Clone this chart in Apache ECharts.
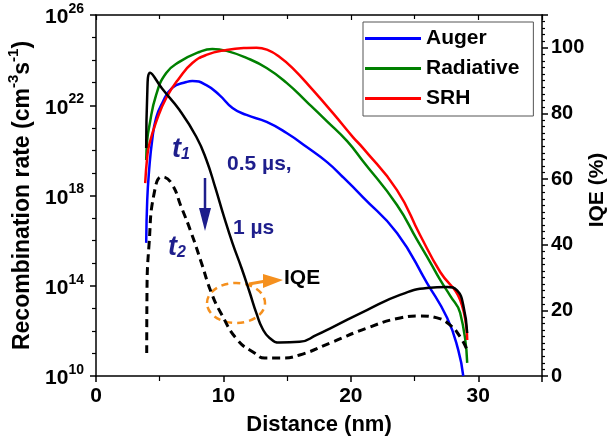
<!DOCTYPE html>
<html><head><meta charset="utf-8">
<script src="https://cdn.jsdelivr.net/npm/echarts@6/dist/echarts.min.js"></script>
<style>html,body{margin:0;padding:0;background:#fff}#c{width:609px;height:442px}</style>
</head><body><div id="c"></div>
<script>
const FONT = '"Liberation Sans", Arial, Helvetica, sans-serif';

// Distance (nm) and log10(recombination rate, cm^-3 s^-1)
const augerX = [3.94, 4.02, 4.17, 4.41, 4.72, 5.2, 5.98, 7.09, 7.56, 8.66, 9.69, 10.71, 11.81, 13.39, 14.96, 16.54, 18.11, 19.37, 20.94, 23.62, 25.98, 27.56, 28.43, 28.82];
const augerLog = [15.9, 17.8, 19.13, 20.46, 21.44, 22.1, 22.77, 23.03, 23.08, 22.89, 22.45, 21.88, 21.57, 21.26, 20.77, 20.15, 19.49, 18.82, 17.93, 16.34, 14.12, 12.57, 11.15, 10.0];

const radX = [3.94, 4.02, 4.17, 4.72, 5.51, 6.54, 8.11, 9.13, 10.24, 11.81, 13.39, 14.96, 16.54, 18.11, 19.69, 20.94, 23.62, 25.2, 26.22, 27.01, 27.8, 28.58, 29.13];
const radLog = [19.57, 20.46, 21.04, 22.46, 23.43, 23.92, 24.36, 24.49, 24.41, 24.1, 23.65, 22.99, 22.15, 21.3, 20.42, 19.53, 17.58, 16.03, 15.05, 14.26, 13.55, 12.79, 10.58];

const srhX = [3.86, 4.02, 4.17, 4.72, 5.51, 6.54, 7.56, 8.66, 10.24, 11.81, 12.6, 13.5, 14.41, 15.43, 17.01, 18.58, 20.16, 20.94, 23.62, 25.43, 27.01, 28.58, 29.13];
const srhLog = [18.55, 19.71, 20.24, 21.26, 22.32, 23.21, 23.87, 24.23, 24.45, 24.54, 24.55, 24.44, 24.14, 23.65, 22.68, 21.66, 20.59, 20.11, 18.24, 16.25, 14.61, 13.37, 11.6];

// IQE (%) at t1 = 0.5 us (solid) and t2 = 1 us (dashed)
const iqe1X = [3.94, 4.02, 4.25, 5.2, 6.54, 7.87, 8.66, 9.37, 10.0, 10.71, 11.42, 12.05, 12.6, 13.07, 13.62, 14.41, 15.98, 17.32, 18.58, 21.26, 23.86, 25.98, 27.56, 28.35, 28.82, 29.13];
const iqe1Y = [69.5, 85.7, 92.4, 87.5, 81.1, 72.9, 65.9, 57.3, 49.1, 40.5, 32.9, 25.6, 19.0, 14.4, 11.6, 10.2, 10.4, 12.5, 14.9, 20.1, 24.7, 26.8, 27.1, 26.0, 21.6, 13.1];

const iqe2X = [3.98, 4.0, 4.17, 4.57, 5.2, 5.91, 6.69, 7.48, 8.27, 9.06, 9.84, 11.1, 12.44, 13.23, 14.41, 15.98, 18.58, 21.26, 23.86, 25.43, 26.77, 27.8, 28.58, 29.13];
const iqe2Y = [7.0, 25.3, 40.5, 55.8, 60.7, 58.8, 51.5, 43.6, 34.5, 25.3, 18.9, 11.0, 7.0, 5.5, 5.5, 6.4, 10.4, 14.6, 17.7, 18.3, 17.7, 15.5, 11.9, 7.9];

const xTicks = [0, 10, 20, 30];
const leftExpTicks = [10, 14, 18, 22, 26];
const rightTicks = [0, 20, 40, 60, 80, 100];

function pairs(xs, ys) { return xs.map((x, i) => [x, ys[i]]); }

const chart = echarts.init(document.getElementById('c'), null, { renderer: 'canvas' });
const axisLineStyle = { color: '#000', width: 1.5 };
const NAVY = '#1e1e8c';
const ORANGE = '#f5901e';
const SMOOTH = 0.5;

const option = {
  animation: false,
  backgroundColor: '#fff',
  grid: { left: 96, right: 67, top: 15, bottom: 66, outerBoundsMode: 'none', containLabel: false },
  legend: {
    data: ['Auger', 'Radiative', 'SRH'],
    orient: 'vertical', left: 363, top: 22,
    icon: 'rect',
    itemWidth: 56, itemHeight: 3, itemGap: 9,
    padding: [6, 14, 7, 2],
    borderColor: '#555', borderWidth: 1,
    selectedMode: false,
    textStyle: { fontFamily: FONT, fontSize: 21, fontWeight: 'bold', color: '#000' }
  },
  xAxis: [{
    type: 'value', min: 0, max: 35, interval: 10,
    name: 'Distance (nm)', nameLocation: 'middle', nameGap: 38,
    nameTextStyle: { fontFamily: FONT, fontSize: 22, fontWeight: 'bold', color: '#000' },
    axisLine: { lineStyle: axisLineStyle },
    axisTick: { length: 6, lineStyle: { width: 1.5, color: '#000' } },
    minorTick: { show: true, splitNumber: 2, length: 5, lineStyle: { width: 1.2, color: '#000' } },
    splitLine: { show: false },
    axisLabel: {
      margin: 10, showMaxLabel: false,
      formatter: v => (xTicks.indexOf(v) >= 0 ? String(v) : ''),
      fontFamily: FONT, fontSize: 21, fontWeight: 'bold', color: '#000'
    }
  }, {
    type: 'value', min: 0, max: 35, interval: 10, position: 'top',
    axisLine: { show: true, onZero: false, lineStyle: axisLineStyle },
    axisTick: { inside: true, length: 5, lineStyle: { width: 1.2, color: '#000' } },
    minorTick: { show: true, splitNumber: 2, length: 4, lineStyle: { width: 1.2, color: '#000' } },
    splitLine: { show: false },
    axisLabel: { show: false }
  }],
  yAxis: [{
    type: 'value', min: 10, max: 26, interval: 4,
    name: '{n|Recombination rate (cm}{s|-3}{n|s}{s|-1}{n|)}',
    nameLocation: 'middle', nameGap: 61,
    nameTextStyle: {
      rich: {
        n: { fontFamily: FONT, fontSize: 23, fontWeight: 'bold', color: '#000', lineHeight: 28, verticalAlign: 'bottom' },
        s: { fontFamily: FONT, fontSize: 15, fontWeight: 'bold', color: '#000', lineHeight: 15, verticalAlign: 'top' }
      }
    },
    axisLine: { show: true, onZero: false, lineStyle: axisLineStyle },
    axisTick: { length: 6, lineStyle: { width: 1.5, color: '#000' } },
    minorTick: { show: true, splitNumber: 4, length: 4, lineStyle: { width: 1.2, color: '#000' } },
    splitLine: { show: false },
    axisLabel: {
      margin: 12,
      formatter: v => (leftExpTicks.indexOf(v) >= 0 ? '{b|10}{s|' + v + '}' : ''),
      rich: {
        b: { fontFamily: FONT, fontSize: 21, fontWeight: 'bold', color: '#000', lineHeight: 26, verticalAlign: 'bottom' },
        s: { fontFamily: FONT, fontSize: 14, fontWeight: 'bold', color: '#000', lineHeight: 14, verticalAlign: 'top' }
      }
    }
  }, {
    type: 'value', min: 0, max: 110, interval: 20, position: 'right',
    axisLine: { show: true, onZero: false, lineStyle: axisLineStyle },
    axisTick: { length: 6, lineStyle: { width: 1.5, color: '#000' } },
    minorTick: { show: true, splitNumber: 10, length: 3, lineStyle: { width: 1.2, color: '#000' } },
    splitLine: { show: false },
    axisLabel: {
      margin: 9, showMaxLabel: false,
      formatter: v => (rightTicks.indexOf(v) >= 0 ? String(v) : ''),
      fontFamily: FONT, fontSize: 20, fontWeight: 'bold', color: '#000'
    }
  }],
  series: [
    { name: 'Auger', type: 'line', xAxisIndex: 0, yAxisIndex: 0, symbol: 'none', smooth: SMOOTH,
      data: pairs(augerX, augerLog), lineStyle: { color: '#0000ff', width: 2.5 }, itemStyle: { color: '#0000ff' } },
    { name: 'Radiative', type: 'line', xAxisIndex: 0, yAxisIndex: 0, symbol: 'none', smooth: SMOOTH,
      data: pairs(radX, radLog), lineStyle: { color: '#008000', width: 2.5 }, itemStyle: { color: '#008000' } },
    { name: 'SRH', type: 'line', xAxisIndex: 0, yAxisIndex: 0, symbol: 'none', smooth: SMOOTH,
      data: pairs(srhX, srhLog), lineStyle: { color: '#ff0000', width: 2.5 }, itemStyle: { color: '#ff0000' } },
    { name: 'IQE t1', type: 'line', xAxisIndex: 0, yAxisIndex: 1, symbol: 'none', smooth: SMOOTH,
      data: pairs(iqe1X, iqe1Y), lineStyle: { color: '#000', width: 2.5 }, itemStyle: { color: '#000' } },
    { name: 'IQE t2', type: 'line', xAxisIndex: 0, yAxisIndex: 1, symbol: 'none', smooth: SMOOTH,
      data: pairs(iqe2X, iqe2Y), lineStyle: { color: '#000', width: 3, type: [8, 5] }, itemStyle: { color: '#000' } }
  ],
  graphic: [
    { type: 'text', x: 597, y: 190, rotation: Math.PI / 2, style: {
        text: 'IQE (%)', align: 'center', verticalAlign: 'middle',
        fontFamily: FONT, fontSize: 21, fontWeight: 'bold', fill: '#000' } },
    { type: 'text', left: 172, top: 136, style: {
        text: '{t|t}{s|1}',
        rich: {
          t: { fontFamily: FONT, fontSize: 27, fontWeight: 'bold', fontStyle: 'italic', fill: NAVY, lineHeight: 30, verticalAlign: 'bottom' },
          s: { fontFamily: FONT, fontSize: 16, fontWeight: 'bold', fontStyle: 'italic', fill: NAVY, lineHeight: 16, verticalAlign: 'bottom' }
        } } },
    { type: 'text', left: 168, top: 234, style: {
        text: '{t|t}{s|2}',
        rich: {
          t: { fontFamily: FONT, fontSize: 27, fontWeight: 'bold', fontStyle: 'italic', fill: NAVY, lineHeight: 30, verticalAlign: 'bottom' },
          s: { fontFamily: FONT, fontSize: 16, fontWeight: 'bold', fontStyle: 'italic', fill: NAVY, lineHeight: 16, verticalAlign: 'bottom' }
        } } },
    { type: 'text', left: 227, top: 154, style: { text: '0.5 \u00b5s,', fontFamily: FONT, fontSize: 21, fontWeight: 'bold', fill: NAVY } },
    { type: 'text', left: 233, top: 218, style: { text: '1 \u00b5s', fontFamily: FONT, fontSize: 21, fontWeight: 'bold', fill: NAVY } },
    { type: 'line', shape: { x1: 205, y1: 178, x2: 205, y2: 212 }, style: { stroke: NAVY, lineWidth: 2.5 } },
    { type: 'polygon', shape: { points: [[199, 208], [211, 208], [205, 231]] }, style: { fill: NAVY } },
    { type: 'ellipse', shape: { cx: 236, cy: 303, rx: 29, ry: 20 }, style: { stroke: ORANGE, fill: null, lineWidth: 2.5, lineDash: [7, 5] } },
    { type: 'line', shape: { x1: 249, y1: 284, x2: 266, y2: 281 }, style: { stroke: ORANGE, lineWidth: 3 } },
    { type: 'polygon', shape: { points: [[263, 274], [283, 280], [263, 288]] }, style: { fill: ORANGE } },
    { type: 'text', left: 284, top: 268, style: { text: 'IQE', fontFamily: FONT, fontSize: 21, fontWeight: 'bold', fill: '#000' } }
  ]
};
chart.setOption(option);
</script>
</body></html>
